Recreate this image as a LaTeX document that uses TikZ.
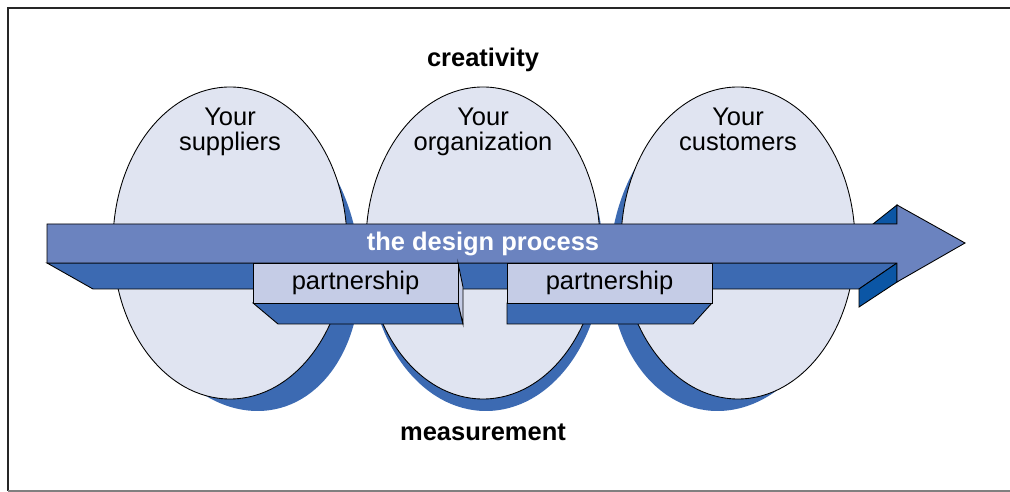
\documentclass[tikz,border=0pt]{standalone}
\usepackage{fontspec}
\setmainfont{Liberation Sans}
\usetikzlibrary{shapes.geometric}
\definecolor{lenscol}{HTML}{E0E4F1}
\definecolor{facecol}{HTML}{6B83BF}
\definecolor{sidecol}{HTML}{3C6AB2}
\definecolor{backcol}{HTML}{0B56A5}
\definecolor{tagcol}{HTML}{C5CCE6}
\begin{document}
\begin{tikzpicture}[x=0.2mm,y=-0.2mm,
    edge/.style={draw=black,line width=0.5pt,line join=miter},
    oval/.style={ellipse,draw=black,line width=0.5pt,fill=lenscol,
      minimum width=46.8mm,minimum height=62.4mm,inner sep=0pt},
    lbl/.style={font=\fontsize{14.5}{14.5}\selectfont,align=center},
    word/.style={font=\fontsize{14.5}{17}\selectfont\bfseries},
    tagbox/.style={draw=black,line width=0.5pt,fill=tagcol,
      minimum width=41mm,minimum height=8mm,inner sep=0pt,
      font=\fontsize{14.5}{17}\selectfont}]
  \useasboundingbox (0,0) rectangle (1010,492);
  % frame
  \draw[line width=1.2pt,black!85] (1010,8) -- (8,8) -- (8,491);
  \draw[line width=1pt,black!50] (8,491) -- (1010,491);
  % shadows of the three circles
  \fill[sidecol,shift={(242,255)},xslant=-0.1] (0,0) ellipse [x radius=117,y radius=156];
  \fill[sidecol,shift={(486,255)}] (0,0) ellipse [x radius=117,y radius=156];
  \fill[sidecol,shift={(727,255)},xslant=0.061] (0,0) ellipse [x radius=117,y radius=156];
  \node[oval] (sup) at (230,243) {};
  \node[oval] (org) at (483,243) {};
  \node[oval] (cus) at (738,243) {};
  \node[lbl] (supl) at (230,132) {Your\\suppliers};
  \node[lbl] (orgl) at (483,132) {Your\\organization};
  \node[lbl] (cusl) at (738,132) {Your\\customers\vphantom{p}};
  % the arrow
  \filldraw[edge,fill=sidecol] (47,263) -- (93,289) -- (859,289) -- (897,263) -- cycle;
  \filldraw[edge,fill=backcol] (859,289) -- (897,263) -- (897,282) -- (859,307) -- cycle;
  \filldraw[edge,fill=backcol] (873,224) -- (897,205) -- (897,224) -- cycle;
  \filldraw[edge,fill=facecol] (47,224) -- (897,224) -- (897,205) -- (965,243)
    -- (897,282) -- (897,263) -- (47,263) -- cycle;
  \node[word,text=white] (proc) at (483,244) {the design process};
  % partnership boxes
  \filldraw[edge,fill=sidecol] (253,303) -- (458,303) -- (463,324) -- (278,324) -- cycle;
  \filldraw[edge,fill=tagcol] (458,263) -- (463,287) -- (463,324) -- (458,303) -- cycle;
  \node[tagbox] (pa) at (355.5,283) {partnership};
  \filldraw[edge,fill=sidecol] (507,303) -- (712,303) -- (693,324) -- (507,324) -- cycle;
  \node[tagbox] (pb) at (609.5,283) {partnership};
  \node[word] (crea) at (483,60) {creativity};
  \node[word] (meas) at (483,432) {measurement};
\end{tikzpicture}
\end{document}
